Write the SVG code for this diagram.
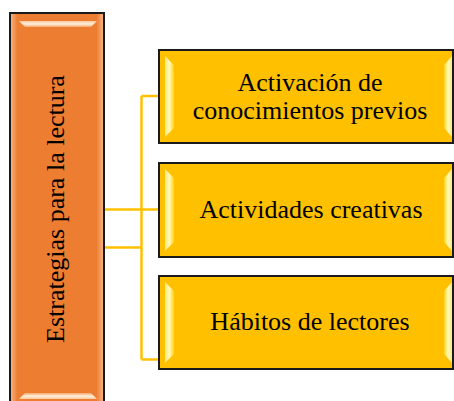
<svg xmlns="http://www.w3.org/2000/svg" width="454" height="401" viewBox="0 0 454 401">
  <style>
    .lbl { font-family: "Liberation Serif", "Times New Roman", serif; font-size: 26px; fill: #000; }
    .gold { fill: #FFC000; stroke: #1a1a1a; stroke-width: 2; }
    .conn { fill: none; stroke: #FFC000; stroke-width: 2.5; }
  </style>
  <defs>
    <linearGradient id="hlL" x1="0" y1="0" x2="1" y2="0">
      <stop offset="0" stop-color="#FFE680"/>
      <stop offset="0.5" stop-color="#FFFBB8"/>
      <stop offset="1" stop-color="#FFD21A"/>
    </linearGradient>
    <linearGradient id="hlR" x1="1" y1="0" x2="0" y2="0">
      <stop offset="0" stop-color="#FFE680"/>
      <stop offset="0.5" stop-color="#FFFBB8"/>
      <stop offset="1" stop-color="#FFD21A"/>
    </linearGradient>
    <linearGradient id="hlT" x1="0" y1="0" x2="0" y2="1">
      <stop offset="0" stop-color="#F8C79E"/>
      <stop offset="0.5" stop-color="#FFF1DC"/>
      <stop offset="1" stop-color="#F4A56A"/>
    </linearGradient>
    <linearGradient id="hlB" x1="0" y1="1" x2="0" y2="0">
      <stop offset="0" stop-color="#F8C79E"/>
      <stop offset="0.5" stop-color="#FFF1DC"/>
      <stop offset="1" stop-color="#F4A56A"/>
    </linearGradient>
    <linearGradient id="sideO" x1="0" y1="0" x2="1" y2="0">
      <stop offset="0" stop-color="#F6B98A"/>
      <stop offset="0.08" stop-color="#ED7D31"/>
      <stop offset="0.92" stop-color="#ED7D31"/>
      <stop offset="1" stop-color="#F6B98A"/>
    </linearGradient>
  </defs>

  <g id="connectors">
    <path class="conn" d="M141.5 96 V359.5"/>
    <path class="conn" d="M141.5 96 H160"/>
    <path class="conn" d="M104 209.5 H160"/>
    <path class="conn" d="M104 247.5 H141.5"/>
    <path class="conn" d="M141.5 359.5 H160"/>
  </g>

  <g id="n-main">
    <rect x="10" y="13" width="94" height="396" fill="url(#sideO)" stroke="#1a1a1a" stroke-width="2"/>
    <polygon points="19,21 97,21 91,27 25,27" fill="url(#hlT)"/>
    <polygon points="19,399 97,399 91,393 25,393" fill="url(#hlB)"/>
    <text class="lbl" text-anchor="middle" transform="translate(64,209) rotate(-90)">Estrategias para la lectura</text>
  </g>

  <g id="n-activacion">
    <rect class="gold" x="159" y="50" width="294" height="93"/>
    <polygon points="165,56 174,65 174,128 165,137" fill="url(#hlL)"/>
    <polygon points="452,56 444,65 444,128 452,137" fill="url(#hlR)"/>
    <text class="lbl" text-anchor="middle" x="310" y="91">Activación de</text>
    <text class="lbl" text-anchor="middle" x="310" y="119">conocimientos previos</text>
  </g>

  <g id="n-actividades">
    <rect class="gold" x="159" y="163" width="294" height="94"/>
    <polygon points="165,169 174,178 174,242 165,251" fill="url(#hlL)"/>
    <polygon points="452,169 444,178 444,242 452,251" fill="url(#hlR)"/>
    <text class="lbl" text-anchor="middle" x="311" y="218">Actividades creativas</text>
  </g>

  <g id="n-habitos">
    <rect class="gold" x="159" y="276" width="294" height="93"/>
    <polygon points="165,282 174,291 174,354 165,363" fill="url(#hlL)"/>
    <polygon points="452,282 444,291 444,354 452,363" fill="url(#hlR)"/>
    <text class="lbl" text-anchor="middle" x="310" y="330">Hábitos de lectores</text>
  </g>
</svg>
